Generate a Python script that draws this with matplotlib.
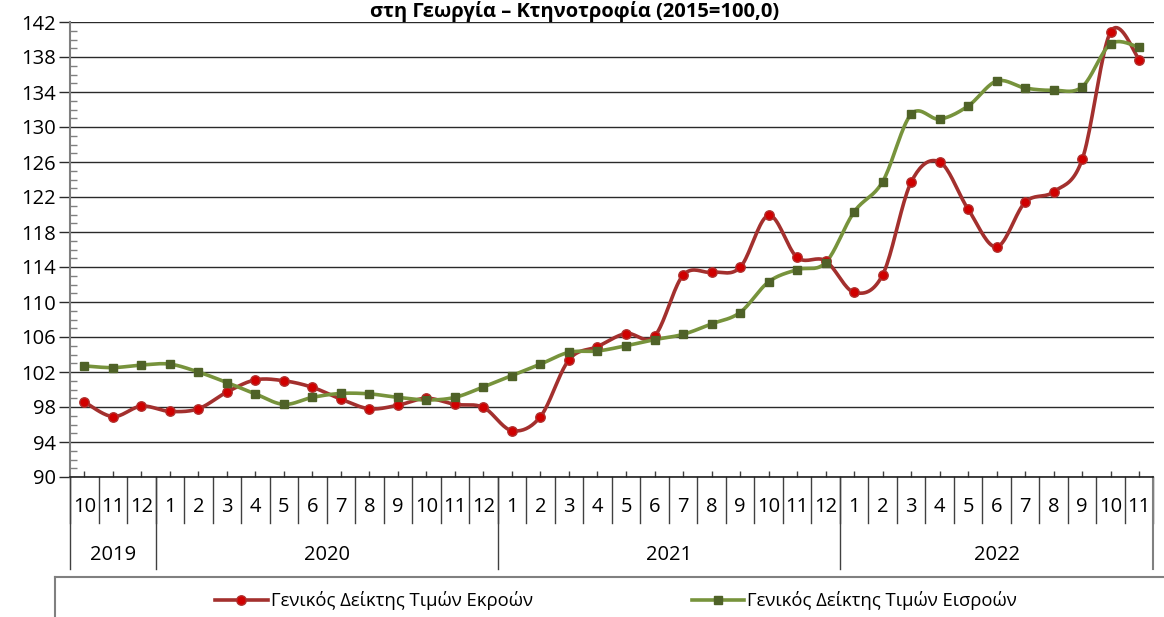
import numpy as np
import matplotlib
matplotlib.use("Agg")
import matplotlib.pyplot as plt
from matplotlib.lines import Line2D

plt.rcParams['font.family'] = ['Open Sans', 'DejaVu Sans']

# μήνες 10/2019 - 11/2022
months = ['10', '11', '12'] + [str(m) for m in range(1, 13)] * 2 + [str(m) for m in range(1, 12)]
years = ['2019', '2020', '2021', '2022']
year_counts = [3, 12, 12, 11]

outputs = [98.6, 96.9, 98.1, 97.5, 97.8, 99.7, 101.1, 101.0, 100.25, 98.9,
           97.8, 98.2, 99.0, 98.3, 97.95, 95.3, 96.9, 103.4, 104.9, 106.4,
           106.1, 113.05, 113.4, 113.95, 119.9, 115.1, 114.7, 111.1, 113.1, 123.7,
           126.0, 120.6, 116.3, 121.4, 122.6, 126.3, 140.9, 137.7]
inputs = [102.7, 102.5, 102.8, 102.9, 102.0, 100.8, 99.5, 98.3, 99.1, 99.55,
          99.5, 99.1, 98.8, 99.1, 100.3, 101.6, 102.9, 104.25, 104.4, 105.0,
          105.7, 106.3, 107.5, 108.8, 112.3, 113.7, 114.5, 120.3, 123.75, 131.45,
          130.9, 132.4, 135.25, 134.45, 134.2, 134.6, 139.5, 139.1]

label_out = 'Γενικός Δείκτης Τιμών Εκροών'
label_in = 'Γενικός Δείκτης Τιμών Εισροών'
title = 'στη Γεωργία – Κτηνοτροφία (2015=100,0)'


# ομαλή καμπύλη (catmull-rom), όπως το smoothed line του excel
def smooth(x, y, n=20):
    x = np.asarray(x, float)
    y = np.asarray(y, float)
    px = np.concatenate([[x[0]], x, [x[-1]]])
    py = np.concatenate([[y[0]], y, [y[-1]]])
    xs, ys = [], []
    t = np.linspace(0, 1, n, endpoint=False)
    for i in range(1, len(px) - 2):
        p0, p1, p2, p3 = [np.array([px[j], py[j]]) for j in range(i - 1, i + 3)]
        c1 = p1 + (p2 - p0) / 6
        c2 = p2 - (p3 - p1) / 6
        b = ((1 - t) ** 3)[:, None] * p1 + (3 * (1 - t) ** 2 * t)[:, None] * c1 \
            + (3 * (1 - t) * t ** 2)[:, None] * c2 + (t ** 3)[:, None] * p2
        xs.extend(b[:, 0])
        ys.extend(b[:, 1])
    xs.append(x[-1])
    ys.append(y[-1])
    return np.array(xs), np.array(ys)


fig = plt.figure(figsize=(11.64, 6.17), dpi=100)
ax = fig.add_axes([70 / 1164, 1 - 477 / 617, (1153.5 - 70) / 1164, 455 / 617])

x = np.arange(len(months))
red_line = '#A3302E'
green_line = '#77933C'

sx, sy = smooth(x, outputs)
ax.plot(sx, sy, color=red_line, lw=2.6, zorder=3)
ax.plot(x, outputs, 'o', color='#D00000', mec='#B0302E', ms=6.8, mew=1, zorder=4)
sx, sy = smooth(x, inputs)
ax.plot(sx, sy, color=green_line, lw=2.6, zorder=3)
ax.plot(x, inputs, 's', color='#4F6228', mec='#4F6228', ms=5.2, zorder=4)

ax.set_xlim(-0.5, len(months) - 0.5)
ax.set_ylim(90, 142)
ax.set_yticks(np.arange(90, 143, 4))
ax.set_yticks(np.arange(90, 143, 1), minor=True)
ax.grid(axis='y', which='major', color='#2a2a2a', lw=1.0)
ax.set_axisbelow(True)
ax.tick_params(axis='y', which='major', direction='out', length=8, width=1,
               color='#2a2a2a', labelsize=14.5, pad=2)
ax.tick_params(axis='y', which='minor', direction='in', length=5, width=1, color='#808080')
ax.set_xticks(x)
ax.set_xticklabels([])
ax.tick_params(axis='x', which='major', direction='in', length=4, width=1, color='#404040')

for s in ['top', 'right']:
    ax.spines[s].set_visible(False)
ax.spines['left'].set_color('#808080')
ax.spines['left'].set_linewidth(1.5)
ax.spines['bottom'].set_color('#202020')
ax.spines['bottom'].set_linewidth(1.2)

# ετικέτες μηνών και ετών κάτω από τον άξονα
tr = ax.get_xaxis_transform()
px_h = 1 / 455
for i, m in enumerate(months):
    ax.text(i, -30 * px_h, m, transform=tr, ha='center', va='center', fontsize=14.5)
for b in np.arange(-0.5, len(months), 1):
    ax.plot([b, b], [0, -46 * px_h], transform=tr, color='#404040', lw=1, clip_on=False)
start = -0.5
for yr, cnt in zip(years, year_counts):
    ax.plot([start, start], [0, -92 * px_h], transform=tr, color='#404040', lw=1, clip_on=False)
    ax.text(start + cnt / 2, -78 * px_h, yr, transform=tr, ha='center', va='center', fontsize=14.5)
    start += cnt
ax.plot([start, start], [0, -92 * px_h], transform=tr, color='#808080', lw=1.5, clip_on=False)

fig.text(575 / 1164, 1 - 16.5 / 617, title, ha='center', va='baseline',
         fontsize=14.5, fontweight='bold')

# πλαίσιο υπομνήματος
fig.add_artist(Line2D([55 / 1164, 1], [1 - 577 / 617, 1 - 577 / 617], color='#808080', lw=1.5))
fig.add_artist(Line2D([55 / 1164, 55 / 1164], [1 - 577 / 617, 0], color='#808080', lw=1.5))

handles = [Line2D([], [], color=red_line, lw=2.6, marker='o', mfc='#D00000', mec='#B0302E', ms=6.8),
           Line2D([], [], color=green_line, lw=2.6, marker='s', mfc='#4F6228', mec='#4F6228', ms=5.2)]
fig.legend(handles, [label_out, label_in], loc='center', ncol=2, frameon=False,
           bbox_to_anchor=(616 / 1164, 1 - 601 / 617), fontsize=13.3,
           handlelength=2.86, handletextpad=0.16, columnspacing=8.6)

fig.savefig('out.png', dpi=100)
